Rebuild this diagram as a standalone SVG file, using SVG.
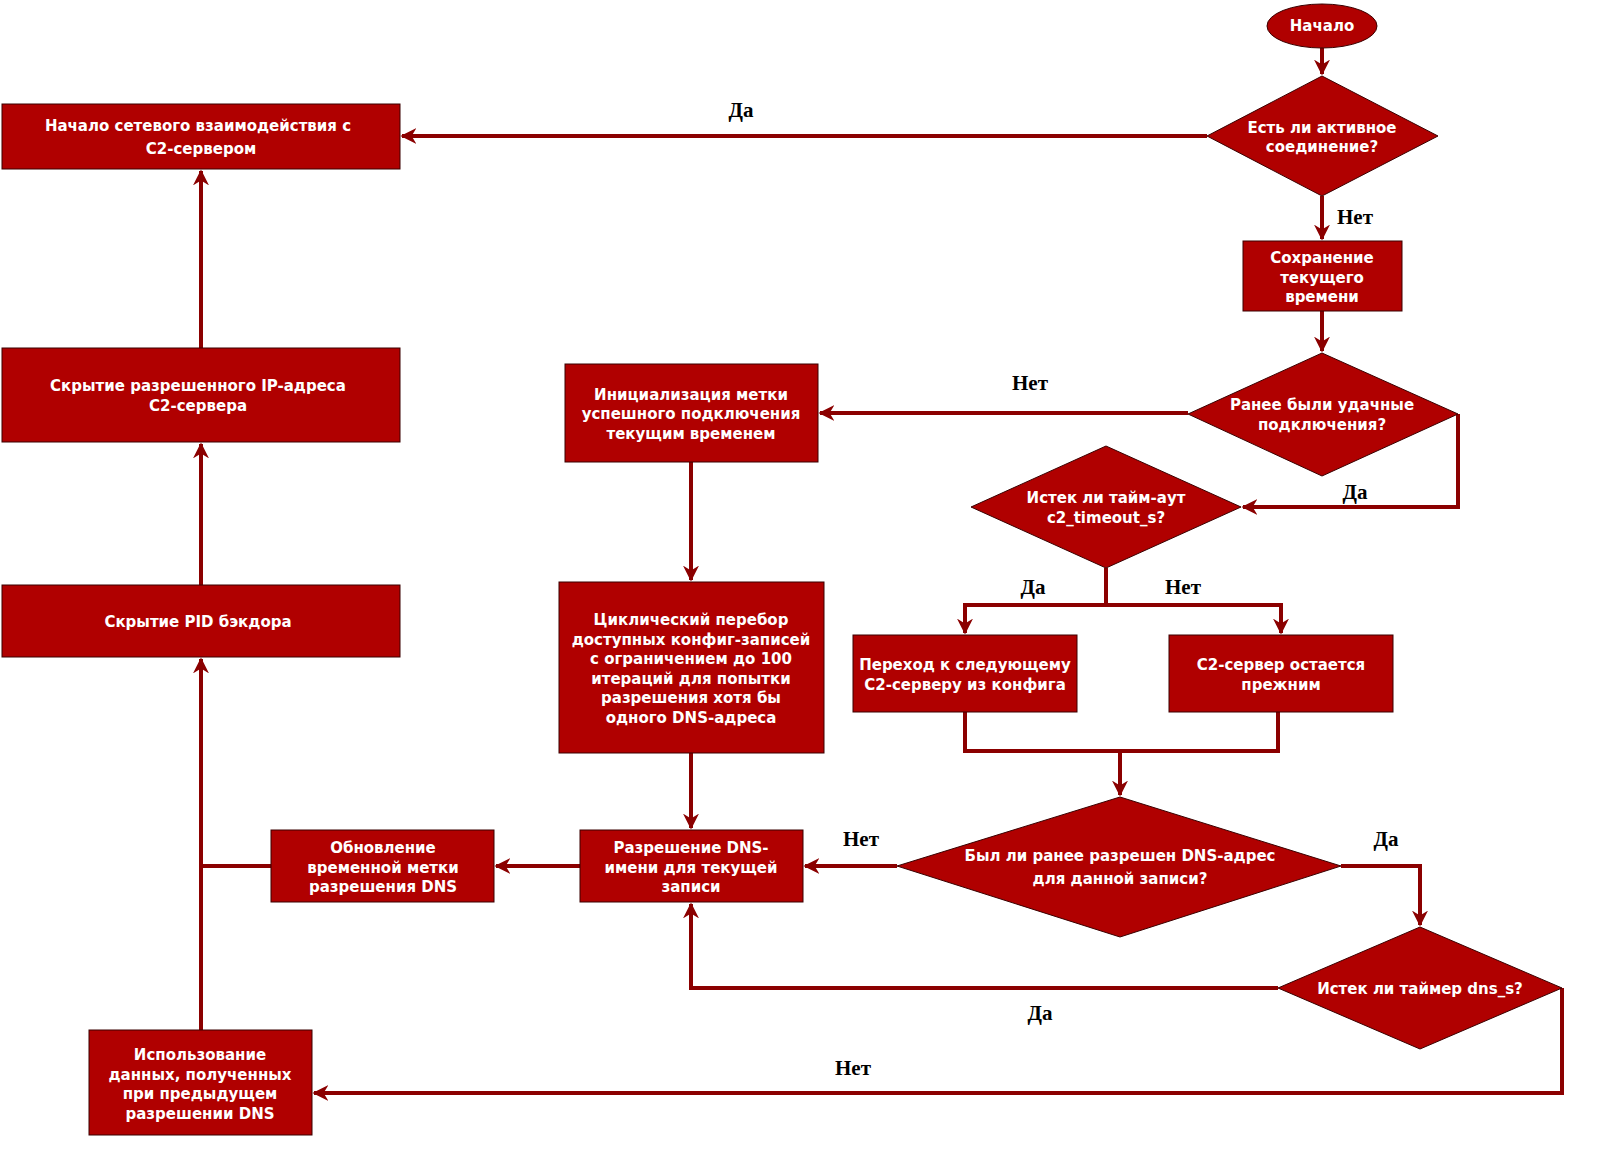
<svg xmlns="http://www.w3.org/2000/svg" width="1599" height="1162" viewBox="0 0 1599 1162">
<defs>
<style>
.n{fill:#b00000;stroke:#3a0000;stroke-width:1}
.t{font-family:"DejaVu Sans",sans-serif;font-weight:bold;font-size:15px;fill:#fff;text-anchor:middle}
.l{font-family:"Liberation Serif",serif;font-weight:bold;font-size:21px;fill:#000;text-anchor:middle}
.c{fill:none;stroke:#8b0000;stroke-width:4}
</style>
<marker id="a" viewBox="0 0 10 10" refX="9" refY="5" markerWidth="4" markerHeight="4" orient="auto" markerUnits="strokeWidth">
<path d="M0,0 L10,5 L0,10 L3,5 Z" fill="#8b0000"/>
</marker>
</defs>
<rect width="1599" height="1162" fill="#fff"/>
<g id="connectors">
<path class="c" d="M1322,48 V74" marker-end="url(#a)"/>
<path class="c" d="M1207,136 H402" marker-end="url(#a)"/>
<path class="c" d="M1322,196 V239" marker-end="url(#a)"/>
<path class="c" d="M1322,311 V351" marker-end="url(#a)"/>
<path class="c" d="M1188,413 H820" marker-end="url(#a)"/>
<path class="c" d="M1458,414 V507 H1243" marker-end="url(#a)"/>
<path class="c" d="M1106,568 V605"/>
<path class="c" d="M965,633 V605 H1281 V633" marker-end="url(#a)"/>
<path class="c" d="M1106,605 H965 V633" marker-end="url(#a)"/>
<path class="c" d="M965,712 V751 H1278 V712"/>
<path class="c" d="M1120,751 V795" marker-end="url(#a)"/>
<path class="c" d="M897,866 H805" marker-end="url(#a)"/>
<path class="c" d="M1341,866 H1420 V925" marker-end="url(#a)"/>
<path class="c" d="M1278,988 H691 V904" marker-end="url(#a)"/>
<path class="c" d="M1562,988 V1093 H314" marker-end="url(#a)"/>
<path class="c" d="M691,462 V580" marker-end="url(#a)"/>
<path class="c" d="M691,753 V828" marker-end="url(#a)"/>
<path class="c" d="M580,866 H496" marker-end="url(#a)"/>
<path class="c" d="M271,866 H201"/>
<path class="c" d="M201,1030 V659" marker-end="url(#a)"/>
<path class="c" d="M201,585 V444" marker-end="url(#a)"/>
<path class="c" d="M201,348 V171" marker-end="url(#a)"/>
<text class="l" x="741" y="117">Да</text>
<text class="l" x="1355" y="224">Нет</text>
<text class="l" x="1030" y="390">Нет</text>
<text class="l" x="1355" y="499">Да</text>
<text class="l" x="1033" y="594">Да</text>
<text class="l" x="1183" y="594">Нет</text>
<text class="l" x="861" y="846">Нет</text>
<text class="l" x="1386" y="846">Да</text>
<text class="l" x="1040" y="1020">Да</text>
<text class="l" x="853" y="1075">Нет</text>
</g>
<g id="start"><ellipse class="n" cx="1322" cy="26" rx="55" ry="22"/><text class="t" x="1322" y="31">Начало</text></g>
<g id="d1"><polygon class="n" points="1322,76 1438,136 1322,196 1207,136"/><text class="t" x="1322" y="133">Есть ли активное</text><text class="t" x="1322" y="152">соединение?</text></g>
<g id="net"><rect class="n" x="2" y="104" width="398" height="65"/><text class="t" x="198" y="131">Начало сетевого взаимодействия с</text><text class="t" x="201" y="154">C2-сервером</text></g>
<g id="save"><rect class="n" x="1243" y="241" width="159" height="70"/><text class="t" x="1322" y="263">Сохранение</text><text class="t" x="1322" y="283">текущего</text><text class="t" x="1322" y="302">времени</text></g>
<g id="d2"><polygon class="n" points="1322,353 1458,414 1322,476 1188,414"/><text class="t" x="1322" y="410">Ранее были удачные</text><text class="t" x="1322" y="430">подключения?</text></g>
<g id="init"><rect class="n" x="565" y="364" width="253" height="98"/><text class="t" x="691" y="400">Инициализация метки</text><text class="t" x="691" y="419">успешного подключения</text><text class="t" x="691" y="439">текущим временем</text></g>
<g id="d3"><polygon class="n" points="1106,446 1241,507 1106,568 971,507"/><text class="t" x="1106" y="503">Истек ли тайм-аут</text><text class="t" x="1106" y="523">c2_timeout_s?</text></g>
<g id="next"><rect class="n" x="853" y="635" width="224" height="77"/><text class="t" x="965" y="670">Переход к следующему</text><text class="t" x="965" y="690">C2-серверу из конфига</text></g>
<g id="same"><rect class="n" x="1169" y="635" width="224" height="77"/><text class="t" x="1281" y="670">C2-сервер остается</text><text class="t" x="1281" y="690">прежним</text></g>
<g id="d4"><polygon class="n" points="1120,797 1341,866 1120,937 897,866"/><text class="t" x="1120" y="861">Был ли ранее разрешен DNS-адрес</text><text class="t" x="1120" y="884">для данной записи?</text></g>
<g id="d5"><polygon class="n" points="1420,927 1562,988 1420,1049 1278,988"/><text class="t" x="1420" y="994">Истек ли таймер dns_s?</text></g>
<g id="cycle"><rect class="n" x="559" y="582" width="265" height="171"/><text class="t" x="691" y="625">Циклический перебор</text><text class="t" x="691" y="645">доступных конфиг-записей</text><text class="t" x="691" y="664">с ограничением до 100</text><text class="t" x="691" y="684">итераций для попытки</text><text class="t" x="691" y="703">разрешения хотя бы</text><text class="t" x="691" y="723">одного DNS-адреса</text></g>
<g id="resolve"><rect class="n" x="580" y="830" width="223" height="72"/><text class="t" x="691" y="853">Разрешение DNS-</text><text class="t" x="691" y="873">имени для текущей</text><text class="t" x="691" y="892">записи</text></g>
<g id="update"><rect class="n" x="271" y="830" width="223" height="72"/><text class="t" x="383" y="853">Обновление</text><text class="t" x="383" y="873">временной метки</text><text class="t" x="383" y="892">разрешения DNS</text></g>
<g id="use"><rect class="n" x="89" y="1030" width="223" height="105"/><text class="t" x="200" y="1060">Использование</text><text class="t" x="200" y="1080">данных, полученных</text><text class="t" x="200" y="1099">при предыдущем</text><text class="t" x="200" y="1119">разрешении DNS</text></g>
<g id="pid"><rect class="n" x="2" y="585" width="398" height="72"/><text class="t" x="198" y="627">Скрытие PID бэкдора</text></g>
<g id="hideip"><rect class="n" x="2" y="348" width="398" height="94"/><text class="t" x="198" y="391">Скрытие разрешенного IP-адреса</text><text class="t" x="198" y="411">C2-сервера</text></g>
</svg>
